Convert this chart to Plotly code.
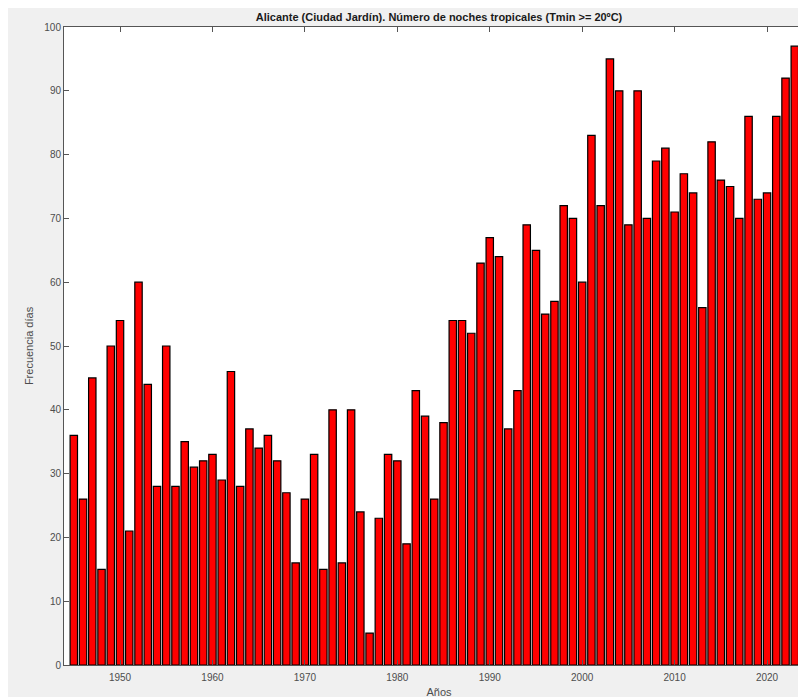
import plotly.graph_objects as go

# numero de noches tropicales por año
years = list(range(1945, 2025))
nights = [36, 26, 45, 15, 50, 54, 21, 60, 44, 28,
          50, 28, 35, 31, 32, 33, 29, 46, 28, 37,
          34, 36, 32, 27, 16, 26, 33, 15, 40, 16,
          40, 24, 5, 23, 33, 32, 19, 43, 39, 26,
          38, 54, 54, 52, 63, 67, 64, 37, 43, 69,
          65, 55, 57, 72, 70, 60, 83, 72, 95, 90,
          69, 90, 70, 79, 81, 71, 77, 74, 56, 82,
          76, 75, 70, 86, 73, 74, 86, 92, 97, 92]
xticks = [1950, 1960, 1970, 1980, 1990, 2000, 2010, 2020]
yticks = list(range(0, 101, 10))

fig = go.Figure(go.Bar(x=years, y=nights, width=0.8,
                       marker=dict(color="#ff0000", line=dict(color="black", width=1.2))))

tickfont = dict(family="Liberation Sans, Arial", size=10, color="#4d4d4d")
axis_common = dict(showline=True, linecolor="#555555", linewidth=1, mirror="ticks",
                   ticks="inside", ticklen=5, tickcolor="#555555", showgrid=False,
                   zeroline=False, tickfont=tickfont, automargin=False)

# the page body has an 8px margin, so margins are shifted to compensate
fig.update_xaxes(range=[1943.94, 2025.08], tickvals=xticks, ticklabelstandoff=3,
                 title=dict(text="Años", font=dict(family="Liberation Sans, Arial", size=11, color="#4d4d4d"),
                            standoff=6),
                 **axis_common)
fig.update_yaxes(range=[0, 100], tickvals=yticks,
                 title=dict(text="Frecuencia días", font=dict(family="Liberation Sans, Arial", size=11, color="#4d4d4d"),
                            standoff=8),
                 **axis_common)

fig.update_layout(
    width=806, height=697,
    margin=dict(l=56, r=0, t=19, b=40),
    paper_bgcolor="#f0f0f0", plot_bgcolor="white",
    title=dict(text="<b>Alicante (Ciudad Jardín). Número de noches tropicales (Tmin >= 20ºC)</b>",
               x=0.5, xref="paper", y=1 - 9 / 697, yanchor="middle",
               font=dict(family="Liberation Sans, Arial", size=11, color="#1a1a1a")),
    bargap=0.2, showlegend=False,
)

fig.write_html("out.html")
